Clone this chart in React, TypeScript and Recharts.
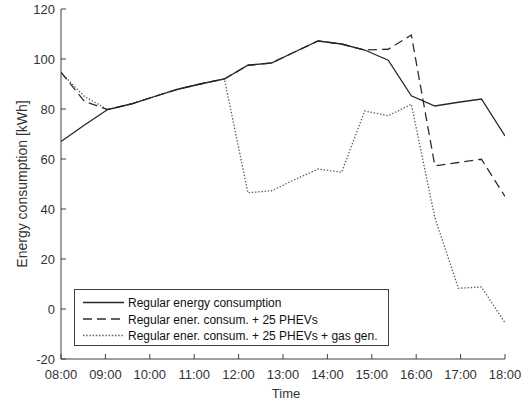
import React from "react";
import { LineChart, Line, XAxis, YAxis, Legend } from "recharts";

// ---- data ----
const times = [8.0, 8.53, 9.05, 9.58, 10.11, 10.63, 11.16, 11.68, 12.21, 12.74, 13.26, 13.79, 14.32, 14.84, 15.37, 15.89, 16.42, 16.95, 17.47, 18.0];
const regular = [67, 73.6, 79.8, 82, 85, 87.9, 90.1, 92, 97.5, 98.4, 102.8, 107.2, 106, 103.6, 99.5, 85.3, 81.2, 82.7, 84, 69.2];
const withPhev = [94.7, 83, 79.8, 82, 85, 87.9, 90.1, 92, 97.5, 98.4, 102.8, 107.2, 106, 103.6, 103.9, 109.6, 57.3, 58.6, 59.9, 45];
const withGas = [94.5, 85, 79.8, 82, 85, 87.9, 90.1, 92, 46.5, 47.3, 51.7, 56, 54.7, 79.2, 77.3, 81.9, 36.5, 8.3, 8.8, -5.5];

const xTicks = [8, 9, 10, 11, 12, 13, 14, 15, 16, 17, 18];
const xTickLabels = ["08:00", "09:00", "10:00", "11:00", "12:00", "13:00", "14:00", "15:00", "16:00", "17:00", "18:00"];
const yTicks = [-20, 0, 20, 40, 60, 80, 100, 120];

const seriesNames = [
  "Regular energy consumption",
  "Regular ener. consum. + 25 PHEVs",
  "Regular ener. consum. + 25 PHEVs + gas gen.",
];

const data = times.map((t, i) => ({
  t,
  regular: regular[i],
  phev: withPhev[i],
  gas: withGas[i],
}));

const FONT = "'Liberation Sans', Arial, Helvetica, sans-serif";
const AXIS = "#404040";
const TEXT = "#333333";

const seriesStyle = [
  { key: "regular", color: "#262626", dash: undefined as string | undefined, width: 1.3 },
  { key: "phev", color: "#2e2e2e", dash: "9 5", width: 1.3 },
  { key: "gas", color: "#5a5a5a", dash: "1.4 1.8", width: 1.3 },
];

const labelFor = (v: number) => {
  const i = xTicks.indexOf(v);
  return i >= 0 ? xTickLabels[i] : String(v);
};

const BottomTick = (props: any) => {
  const { x, y, payload } = props;
  return (
    <g>
      <line x1={x} x2={x} y1={y} y2={y - 5} stroke={AXIS} strokeWidth={1} />
      <text x={x} y={y + 19.5} textAnchor="middle" fill={TEXT} fontSize={13} fontFamily={FONT}>
        {labelFor(payload.value)}
      </text>
    </g>
  );
};

const TopTick = (props: any) => {
  const { x, y } = props;
  return <line x1={x} x2={x} y1={y} y2={y + 5} stroke={AXIS} strokeWidth={1} />;
};

const LeftTick = (props: any) => {
  const { x, y, payload } = props;
  return (
    <g>
      <line x1={x} x2={x + 5} y1={y} y2={y} stroke={AXIS} strokeWidth={1} />
      <text x={x - 6} y={y + 4.5} textAnchor="end" fill={TEXT} fontSize={13} fontFamily={FONT}>
        {payload.value}
      </text>
    </g>
  );
};

const RightTick = (props: any) => {
  const { x, y } = props;
  return <line x1={x} x2={x - 5} y1={y} y2={y} stroke={AXIS} strokeWidth={1} />;
};

const YTitle = (props: any) => {
  const vb = props.viewBox || { x: 0, y: 9, width: 61, height: 350 };
  const cx = vb.x + 27;
  const cy = vb.y + vb.height / 2;
  return (
    <text
      x={cx}
      y={cy}
      transform={`rotate(-90, ${cx}, ${cy})`}
      textAnchor="middle"
      fill={TEXT}
      fontSize={14}
      fontFamily={FONT}
    >
      Energy consumption [kWh]
    </text>
  );
};

const XTitle = (props: any) => {
  const vb = props.viewBox || { x: 61, y: 359, width: 444, height: 42 };
  const cx = vb.x + vb.width / 2 + 3;
  return (
    <text x={cx} y={vb.y + 38.5} textAnchor="middle" fill={TEXT} fontSize={13} fontFamily={FONT}>
      Time
    </text>
  );
};

const LegendBox = () => {
  const rowBase = [18, 34.5, 51];
  return (
    <svg width={315} height={57} style={{ display: "block" }}>
      <rect x={0.5} y={0.5} width={314} height={56} fill="#ffffff" stroke={AXIS} strokeWidth={1} />
      {seriesStyle.map((s, i) => (
        <g key={s.key}>
          <line
            x1={9}
            x2={50}
            y1={rowBase[i] - 4.5}
            y2={rowBase[i] - 4.5}
            stroke={s.color}
            strokeWidth={s.width}
            strokeDasharray={s.dash}
          />
          <text x={54} y={rowBase[i]} fill="#111" fontSize={12} fontFamily={FONT}>
            {seriesNames[i]}
          </text>
        </g>
      ))}
    </svg>
  );
};

export default function App() {
  return (
    <div style={{ position: "absolute", left: 0, top: 0, width: 524, height: 401, background: "#fff" }}>
      <LineChart
        width={524}
        height={401}
        data={data}
        margin={{ top: 9, right: 19, bottom: 0, left: 0 }}
      >
        <XAxis
          dataKey="t"
          type="number"
          domain={[8, 18]}
          ticks={xTicks}
          allowDataOverflow
          height={42}
          tickSize={0}
          tickMargin={0}
          tickLine={false}
          axisLine={{ stroke: AXIS, strokeWidth: 1 }}
          tick={<BottomTick />}
          interval={0}
          label={<XTitle />}
        />
        <XAxis
          xAxisId="top"
          orientation="top"
          dataKey="t"
          type="number"
          domain={[8, 18]}
          ticks={xTicks}
          allowDataOverflow
          height={0}
          tickSize={0}
          tickMargin={0}
          tickLine={false}
          axisLine={{ stroke: AXIS, strokeWidth: 1 }}
          tick={<TopTick />}
          interval={0}
        />
        <YAxis
          type="number"
          domain={[-20, 120]}
          ticks={yTicks}
          allowDataOverflow
          width={61}
          tickSize={0}
          tickMargin={0}
          tickLine={false}
          axisLine={{ stroke: AXIS, strokeWidth: 1 }}
          tick={<LeftTick />}
          interval={0}
          label={<YTitle />}
        />
        <YAxis
          yAxisId="right"
          orientation="right"
          type="number"
          domain={[-20, 120]}
          ticks={yTicks}
          allowDataOverflow
          width={0}
          tickSize={0}
          tickMargin={0}
          tickLine={false}
          axisLine={{ stroke: AXIS, strokeWidth: 1 }}
          tick={<RightTick />}
          interval={0}
        />
        <Legend
          layout="horizontal"
          verticalAlign="middle"
          align="center"
          content={<LegendBox />}
          wrapperStyle={{ position: "absolute", left: 74, top: 289, width: 315, height: 57 }}
        />
        {[...seriesStyle].reverse().map((s) => (
          <Line
            key={s.key}
            type="linear"
            dataKey={s.key}
            name={seriesNames[seriesStyle.indexOf(s)]}
            stroke={s.color}
            strokeWidth={s.width}
            strokeDasharray={s.dash}
            dot={false}
            activeDot={false}
            isAnimationActive={false}
          />
        ))}
      </LineChart>
    </div>
  );
}
